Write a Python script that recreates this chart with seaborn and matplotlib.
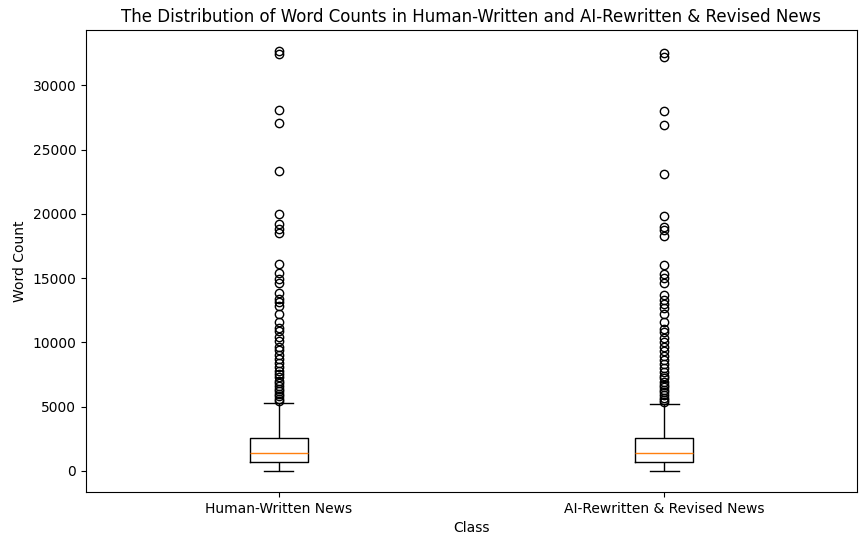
import matplotlib
matplotlib.use("Agg")
import matplotlib.pyplot as plt
import numpy as np
import pandas as pd
import seaborn as sns

classes = ["Human-Written News", "AI-Rewritten & Revised News"]

# body of each distribution: levels and how many articles sit at each level
human_levels = [0, 700, 1400, 2550, 5300]
ai_levels = [0, 700, 1400, 2550, 5200]
level_counts = [40, 60, 100, 60, 10]

human_outliers = [32700, 32400, 28100, 27100, 23300, 20000, 19200, 18800, 18500,
                  16100, 15400, 14900, 14600, 13800, 13400, 13100, 12800, 12200,
                  11600, 11100, 10900, 10400, 10100, 9600, 9400, 9000, 8700, 8400,
                  8100, 7800, 7500, 7300, 7000, 6800, 6600, 6400, 6200, 6000, 5800,
                  5600, 5400]
ai_outliers = [32500, 32200, 28000, 26900, 23100, 19800, 19000, 18700, 18300,
               16000, 15300, 15000, 14600, 13700, 13300, 13000, 12700, 12200,
               11600, 11000, 10800, 10300, 10000, 9600, 9300, 8900, 8600, 8300,
               8000, 7700, 7400, 7200, 6900, 6700, 6500, 6300, 6100, 5900, 5700,
               5500, 5350]

human = list(np.repeat(human_levels, level_counts)) + human_outliers
ai = list(np.repeat(ai_levels, level_counts)) + ai_outliers
df = pd.DataFrame({
    "Class": [classes[0]] * len(human) + [classes[1]] * len(ai),
    "Word Count": human + ai,
})

fig = plt.figure(figsize=(8.68, 5.45), dpi=100)
ax = fig.add_axes([86 / 868, 53 / 545, 771 / 868, 462 / 545])

sns.boxplot(data=df, x="Class", y="Word Count", order=classes, ax=ax,
            width=0.15, fill=False, color="black", linewidth=1,
            medianprops=dict(color="#ff7f0e", linewidth=1),
            flierprops=dict(marker="o", markersize=6, markerfacecolor="none",
                            markeredgecolor="black"))

ax.set_xlim(-0.5, 1.5)
ax.set_ylim(-1650, 34300)
ax.set_title("The Distribution of Word Counts in Human-Written and AI-Rewritten & Revised News")
ax.set_xlabel("Class")
ax.set_ylabel("Word Count")

fig.savefig("out.png", dpi=100)
